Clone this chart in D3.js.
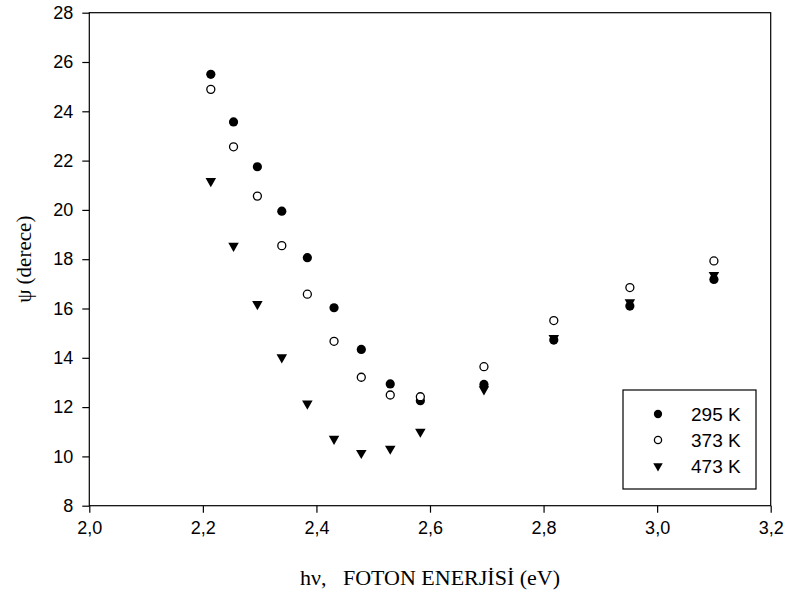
<!DOCTYPE html>
<html>
<head>
<meta charset="utf-8">
<script src="https://cdn.jsdelivr.net/npm/d3@7/dist/d3.min.js"></script>
<style>
  html, body { margin: 0; padding: 0; background: #fff; }
  svg { display: block; }
</style>
</head>
<body>
<script>
// ---- data ----
const energy = [2.214, 2.254, 2.296, 2.339, 2.384, 2.431, 2.479, 2.530, 2.583, 2.695, 2.818, 2.952, 3.100];
const psi295 = [25.50, 23.57, 21.75, 19.95, 18.06, 16.03, 14.34, 12.94, 12.26, 12.92, 14.72, 16.10, 17.18];
const psi373 = [24.89, 22.56, 20.56, 18.55, 16.58, 14.67, 13.21, 12.49, 12.42, 13.64, 15.51, 16.85, 17.93];
const psi473 = [21.17, 18.54, 16.18, 14.02, 12.14, 10.71, 10.14, 10.31, 11.00, 12.72, 14.80, 16.25, 17.36];
const seriesNames = ["295 K", "373 K", "473 K"];
const xTicks = [2.0, 2.2, 2.4, 2.6, 2.8, 3.0, 3.2];
const yTicks = [8, 10, 12, 14, 16, 18, 20, 22, 24, 26, 28];
const xTitle = "hν,   FOTON ENERJİSİ (eV)";
const yTitle = "ψ (derece)";

// ---- layout ----
const W = 788, H = 594;
const pL = 89.3, pR = 770.7, pT = 12.7, pB = 505.7;

const svg = d3.select("body").append("svg").attr("width", W).attr("height", H);

const x = d3.scaleLinear().domain([2.0, 3.2]).range([pL, pR]);
const y = d3.scaleLinear().domain([8, 28]).range([pB, pT]);

const fmt = d => d.toFixed(1).replace(".", ",");

// frame
svg.append("rect")
  .attr("x", pL).attr("y", pT)
  .attr("width", pR - pL).attr("height", pB - pT)
  .attr("fill", "none").attr("stroke", "#000").attr("stroke-width", 1.2);

// axes
const xAxis = d3.axisBottom(x).tickValues(xTicks).tickFormat(fmt).tickSize(7).tickPadding(9);
const yAxis = d3.axisLeft(y).tickValues(yTicks).tickFormat(d3.format("d")).tickSize(7).tickPadding(9);

const gx = svg.append("g").attr("transform", `translate(0,${pB})`).call(xAxis);
const gy = svg.append("g").attr("transform", `translate(${pL},0)`).call(yAxis);
[gx, gy].forEach(g => {
  g.select(".domain").remove();
  g.selectAll(".tick line").attr("stroke", "#000").attr("stroke-width", 1.2);
  g.selectAll(".tick text")
    .attr("fill", "#000")
    .style("font-family", "'Liberation Sans', Arial, sans-serif")
    .style("font-size", "18px");
});

// titles
svg.append("text")
  .attr("x", (pL + pR) / 2).attr("y", 585)
  .attr("text-anchor", "middle")
  .attr("xml:space", "preserve")
  .style("white-space", "pre")
  .style("font-family", "'Liberation Serif', 'Times New Roman', serif")
  .style("font-size", "22px")
  .text(xTitle);

svg.append("text")
  .attr("transform", `translate(31,${(pT + pB) / 2}) rotate(-90)`)
  .attr("text-anchor", "middle")
  .style("font-family", "'Liberation Serif', 'Times New Roman', serif")
  .style("font-size", "21px")
  .text(yTitle);

// markers
function drawMarker(g, kind, cx, cy, scale) {
  const s = scale || 1;
  if (kind === 0) {
    g.append("circle").attr("cx", cx).attr("cy", cy).attr("r", 4.6 * s).attr("fill", "#000");
  } else if (kind === 1) {
    g.append("circle").attr("cx", cx).attr("cy", cy).attr("r", 4.0 * s)
      .attr("fill", "#fff").attr("stroke", "#000").attr("stroke-width", 1.3);
  } else {
    g.append("path").attr("d", d3.symbol().type(d3.symbolTriangle).size(48 * s * s)())
      .attr("transform", `translate(${cx},${cy}) rotate(180)`).attr("fill", "#000");
  }
}

const allSeries = [psi295, psi373, psi473];
const pts = svg.append("g");
[2, 0, 1].forEach(si => {
  allSeries[si].forEach((v, i) => drawMarker(pts, si, x(energy[i]), y(v)));
});

// legend
const lg = svg.append("g");
lg.append("rect").attr("x", 623).attr("y", 390).attr("width", 133).attr("height", 99)
  .attr("fill", "#fff").attr("stroke", "#000").attr("stroke-width", 1.2);
seriesNames.forEach((name, i) => {
  const cy = 414 + i * 26;
  drawMarker(lg, i, 658, cy, 0.9);
  lg.append("text").attr("x", 691).attr("y", cy + 7)
    .style("font-family", "'Liberation Sans', Arial, sans-serif")
    .style("font-size", "19px")
    .text(name);
});
</script>
</body>
</html>
